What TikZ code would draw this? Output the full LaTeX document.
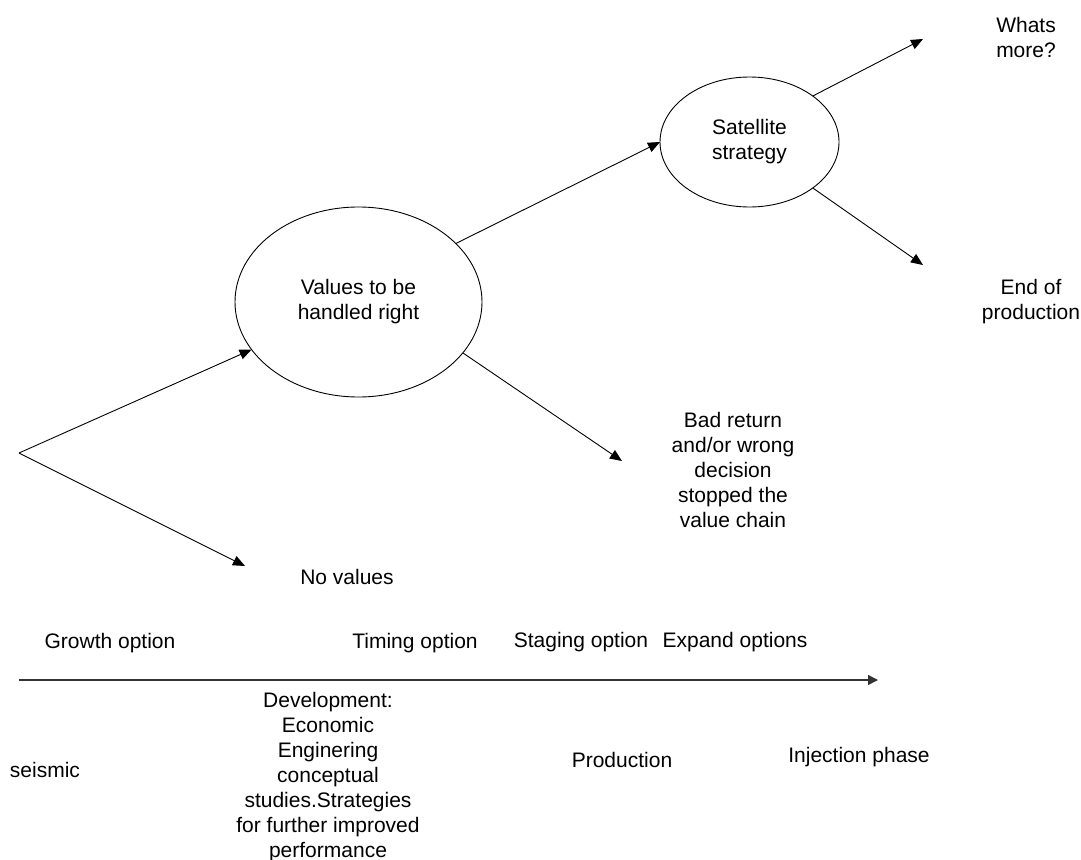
\documentclass[tikz,border=0pt]{standalone}
\usepackage{fontspec}
\setmainfont{Liberation Sans}
\usetikzlibrary{arrows.meta,shapes.geometric}
\begin{document}
\begin{tikzpicture}[x=1pt,y=-1pt,
  every node/.style={inner sep=0pt,outer sep=0pt,font=\fontsize{21}{25}\selectfont},
  label/.style={align=center},
  bubble/.style={draw,ellipse,line width=0.9pt},
  flow/.style={line width=0.9pt,-{Triangle[length=12pt,width=10pt]}},
  timeline/.style={line width=1.4pt,black!80,-{Triangle[length=10pt,width=10pt]}}]
\useasboundingbox (0,0) rectangle (1081,859);

% decision bubbles
\node[bubble,minimum width=247pt,minimum height=190pt,align=center] (vals) at (358.5,302) {Values to be\\handled right};
\node[bubble,minimum width=179pt,minimum height=130pt,align=center] (sat) at (749.5,142) {Satellite\\strategy};

% outcome labels
\node[label,anchor=north] (more) at (1026,17.7) {Whats\\more?};
\node[label,anchor=north] (endp) at (1031,279.7) {End of\\production};
\node[label,anchor=north] (bad) at (733,412.7) {Bad return\\and/or wrong\\decision\\stopped the\\value chain};
\node[anchor=base] (noval) at (347,584) {No values};

% free ends of the branches
\coordinate (fork) at (19,453);
\coordinate (tipno) at (245,566);
\coordinate (tipbad) at (622,461);
\coordinate (tipmore) at (923,39);
\coordinate (tipend) at (923,265);

\draw[flow] (fork) -- (vals);
\draw[flow] (fork) -- (tipno);
\draw[flow] (vals.31.4) -- (sat.west);
\draw[flow] (vals.-26.7) -- (tipbad);
\draw[flow] (sat.36.5) -- (tipmore);
\draw[flow] (sat.-36) -- (tipend);

% options above the time axis
\node[anchor=base] (growth) at (110,648) {Growth option};
\node[anchor=base] (timing) at (415,648) {Timing option};
\node[anchor=base] (staging) at (581,647) {Staging option};
\node[anchor=base] (expand) at (735,647) {Expand options};

% time axis
\coordinate (t0) at (19,680);
\coordinate (t1) at (878,680);
\draw[timeline] (t0) -- (t1);

% phases below the time axis
\node[anchor=base] (seismic) at (45,777) {seismic};
\node[label,anchor=north] (dev) at (328,692) {Development:\\Economic\\Enginering\\conceptual\\studies.Strategies\\for further improved\\performance};
\node[anchor=base] (prod) at (622,767) {Production};
\node[anchor=base] (inj) at (859,762) {Injection phase};
\end{tikzpicture}
\end{document}
